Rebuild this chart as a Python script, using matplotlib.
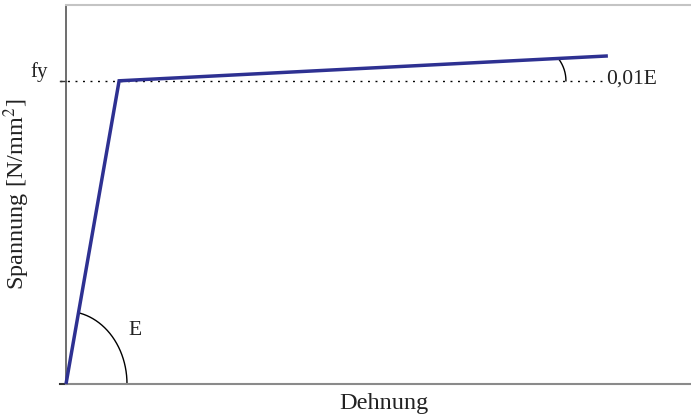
import numpy as np
import matplotlib.pyplot as plt

plt.rcParams['font.family'] = ['Liberation Serif', 'DejaVu Serif']
plt.rcParams['mathtext.fontset'] = 'stix'

# Bilinear stress-strain model (normalised units)
strain = [0.0, 0.085, 0.867]
stress = [0.0, 1.0, 1.082]
fy = 1.0

x_label = "Dehnung"
y_label = "Spannung [N/mm$^2$]"
fy_label = "fy"
e_label = "E"
hard_label = "0,01E"

line_color = "#2E3192"
text_color = "#222222"

fig = plt.figure(figsize=(6.91, 4.19), dpi=100)
ax = fig.add_axes([66 / 691, 35 / 419, 625 / 691, 379 / 419])
ax.set_xlim(0, 1.0)
ax.set_ylim(0, 1.25)

ax.plot(strain, stress, color=line_color, lw=2.5, solid_joinstyle='miter',
        solid_capstyle='butt', zorder=3, clip_on=False)

# yield level
ax.plot([-0.0096, strain[2] - 0.006], [fy, fy], color='black', lw=1.0,
        linestyle=(0, (1.4, 4.0)), clip_on=False, zorder=2)
ax.plot([-0.0096, 0], [fy, fy], color='#333333', lw=1.0, clip_on=False)

# frame
ax.spines['right'].set_visible(False)
ax.spines['left'].set_color('#555555')
ax.spines['left'].set_linewidth(1.2)
ax.spines['top'].set_color('#c4c4c4')
ax.spines['top'].set_linewidth(1.5)
ax.spines['bottom'].set_color('#8a8a8a')
ax.spines['bottom'].set_linewidth(1.5)
ax.plot([-0.0096, 0], [0, 0], color='#333333', lw=1.5, clip_on=False)
ax.set_xticks([])
ax.set_yticks([])

# elastic modulus arc around origin
a, b = 0.0976, 0.24
k = stress[1] / strain[1]
t = np.linspace(0, np.pi / 2, 400)
ex, ey = a * np.cos(t), b * np.sin(t)
mask = ey <= k * ex
ax.plot(ex[mask], ey[mask], color='black', lw=1.0, zorder=2)

# hardening arc
k2 = (stress[2] - stress[1]) / (strain[2] - strain[1])
cx, r = 0.7415, 0.0584
ry = r * 625 / (379 / 1.25)
t2 = np.linspace(0, np.pi / 2, 400)
hx, hy = cx + r * np.cos(t2), fy + ry * np.sin(t2)
m2 = (hy - fy) <= k2 * (hx - strain[1])
ax.plot(hx[m2], hy[m2], color='black', lw=1.0, zorder=2)

ax.text(-0.0576, fy + 0.0125, fy_label, fontsize=15, ha='left', va='baseline',
        color=text_color, clip_on=False)
ax.text(0.864, fy - 0.0105, hard_label, fontsize=15.5, ha='left', va='baseline',
        color=text_color, clip_on=False)
ax.text(0.0992, 0.1616, e_label, fontsize=15.5, ha='left', va='baseline', color=text_color)

fig.text(339 / 691, 10 / 419, x_label, fontsize=17.5, ha='left', va='baseline', color=text_color)
fig.text(17 / 691, 1 - 194 / 419, y_label, fontsize=17.5, ha='center', va='center',
         rotation=90, color=text_color)

fig.savefig('out.png', dpi=100)
